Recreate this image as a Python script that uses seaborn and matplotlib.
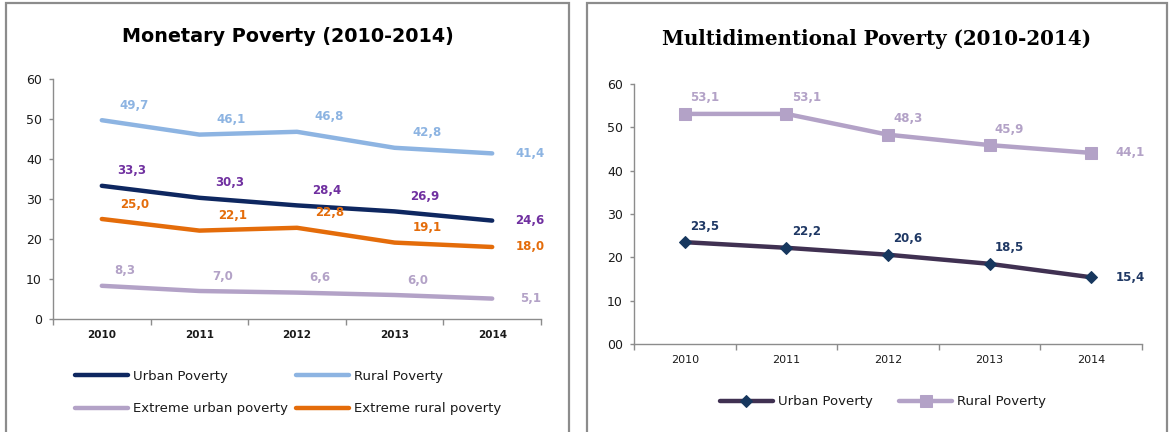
import matplotlib
matplotlib.use('Agg')
import matplotlib.pyplot as plt
import seaborn as sns
from matplotlib.patches import Rectangle

# data
years = [2010, 2011, 2012, 2013, 2014]

# Monetary poverty
urban_monetary = [33.3, 30.3, 28.4, 26.9, 24.6]
rural_monetary = [49.7, 46.1, 46.8, 42.8, 41.4]
extreme_urban = [8.3, 7.0, 6.6, 6.0, 5.1]
extreme_rural = [25.0, 22.1, 22.8, 19.1, 18.0]

# Multidimentional poverty
urban_multi = [23.5, 22.2, 20.6, 18.5, 15.4]
rural_multi = [53.1, 53.1, 48.3, 45.9, 44.1]

sns.set_style('white')
plt.rcParams['font.family'] = ['DejaVu Sans']

gray = '#8c8c8c'
W, H = 1169, 432

fig = plt.figure(figsize=(11.69, 4.32), dpi=100)

# panel frames
fig.add_artist(Rectangle((6 / W, -0.1), (569 - 6) / W, 1.1 - 3 / H, transform=fig.transFigure,
                         fill=False, edgecolor=gray, lw=1.6))
fig.add_artist(Rectangle((587 / W, -0.1), (1167 - 587) / W, 1.1 - 3 / H, transform=fig.transFigure,
                         fill=False, edgecolor=gray, lw=1.6))

ax1 = fig.add_axes([53 / W, 1 - 319 / H, 488 / W, 240 / H])
ax2 = fig.add_axes([634 / W, 1 - 344 / H, 508 / W, 260 / H])


def label(v):
    return f"{v:.1f}".replace('.', ',')


def style_axes(ax, zero_pad, xbold):
    ax.set_xlim(2009.5, 2014.5)
    ax.set_ylim(0, 60)
    ax.set_yticks(range(0, 61, 10))
    if zero_pad:
        ax.set_yticklabels([f"{t:02d}" for t in range(0, 61, 10)])
    ax.set_xticks(years)
    ax.set_xticklabels([str(y) for y in years], fontsize=7.5 if xbold else 8,
                       fontweight='bold' if xbold else 'normal')
    ax.set_xticks([2009.5 + i for i in range(6)], minor=True)
    ax.tick_params(axis='x', which='major', bottom=True, length=0, pad=8, labelcolor='#1a1a1a')
    ax.tick_params(axis='x', which='minor', bottom=True, length=4, color=gray, width=1)
    ax.tick_params(axis='y', left=True, length=3, color=gray, width=1, pad=5, labelsize=9,
                   labelcolor='#1a1a1a')
    for s in ['top', 'right']:
        ax.spines[s].set_visible(False)
    for s in ['left', 'bottom']:
        ax.spines[s].set_color(gray)
        ax.spines[s].set_linewidth(1)
    ax.set_xlabel('')
    ax.set_ylabel('')


# ---------------- Monetary Poverty ----------------
left_series = [
    ('Urban Poverty', urban_monetary, '#0e2760', '#7030a0', 30),
    ('Extreme urban poverty', extreme_urban, '#b3a2c7', '#b3a2c7', 23),
    ('Rural Poverty', rural_monetary, '#8db4e2', '#8db4e2', 32),
    ('Extreme rural poverty', extreme_rural, '#e46c0a', '#e46c0a', 33),
]
for name, vals, col, lcol, dx in left_series:
    sns.lineplot(x=years, y=vals, ax=ax1, color=col, lw=3.2, label=name,
                 solid_capstyle='round')
    for i, (yr, v) in enumerate(zip(years, vals)):
        off = (38, 0) if i == len(years) - 1 else (dx, 15)
        ax1.annotate(label(v), (yr, v), xytext=off, textcoords='offset pixels',
                     ha='center', va='center', fontsize=8.5, fontweight='bold', color=lcol)
style_axes(ax1, False, True)
h1, l1 = ax1.get_legend_handles_labels()
ax1.get_legend().remove()
fig.legend(h1, l1, ncol=2, loc='center', bbox_to_anchor=(288 / W, 1 - 392.5 / H),
           frameon=False, fontsize=9.5, handlelength=4.0, handletextpad=0.4,
           columnspacing=0.6, labelspacing=1.5, labelcolor='#1a1a1a')

# ---------------- Multidimentional Poverty ----------------
sns.lineplot(x=years, y=urban_multi, ax=ax2, color='#403152', lw=3.2, label='Urban Poverty',
             marker='D', markersize=6, markerfacecolor='#17375e', markeredgecolor='#17375e')
sns.lineplot(x=years, y=rural_multi, ax=ax2, color='#b3a2c7', lw=3.2, label='Rural Poverty',
             marker='s', markersize=8, markerfacecolor='#b3a2c7', markeredgecolor='#b3a2c7')
for vals, lcol in [(urban_multi, '#1f3864'), (rural_multi, '#b3a2c7')]:
    for i, (yr, v) in enumerate(zip(years, vals)):
        off = (39, 0) if i == len(years) - 1 else (20, 16)
        ax2.annotate(label(v), (yr, v), xytext=off, textcoords='offset pixels',
                     ha='center', va='center', fontsize=8.5, fontweight='bold', color=lcol)
style_axes(ax2, True, False)
h2, l2 = ax2.get_legend_handles_labels()
ax2.get_legend().remove()
fig.legend(h2, l2, ncol=2, loc='center', bbox_to_anchor=(883 / W, 1 - 402 / H),
           frameon=False, fontsize=9.5, handlelength=4.0, handletextpad=0.4,
           columnspacing=2.0, labelcolor='#1a1a1a')

# titles
fig.text(288 / W, 1 - 37 / H, 'Monetary Poverty (2010-2014)', ha='center', va='center',
         fontsize=13.8, fontweight='bold', color='black')
fig.text(877 / W, 1 - 39 / H, 'Multidimentional Poverty (2010-2014)', ha='center', va='center',
         fontsize=14.3, fontweight='bold', family='DejaVu Serif', color='black')

fig.savefig('out.png', dpi=100)
